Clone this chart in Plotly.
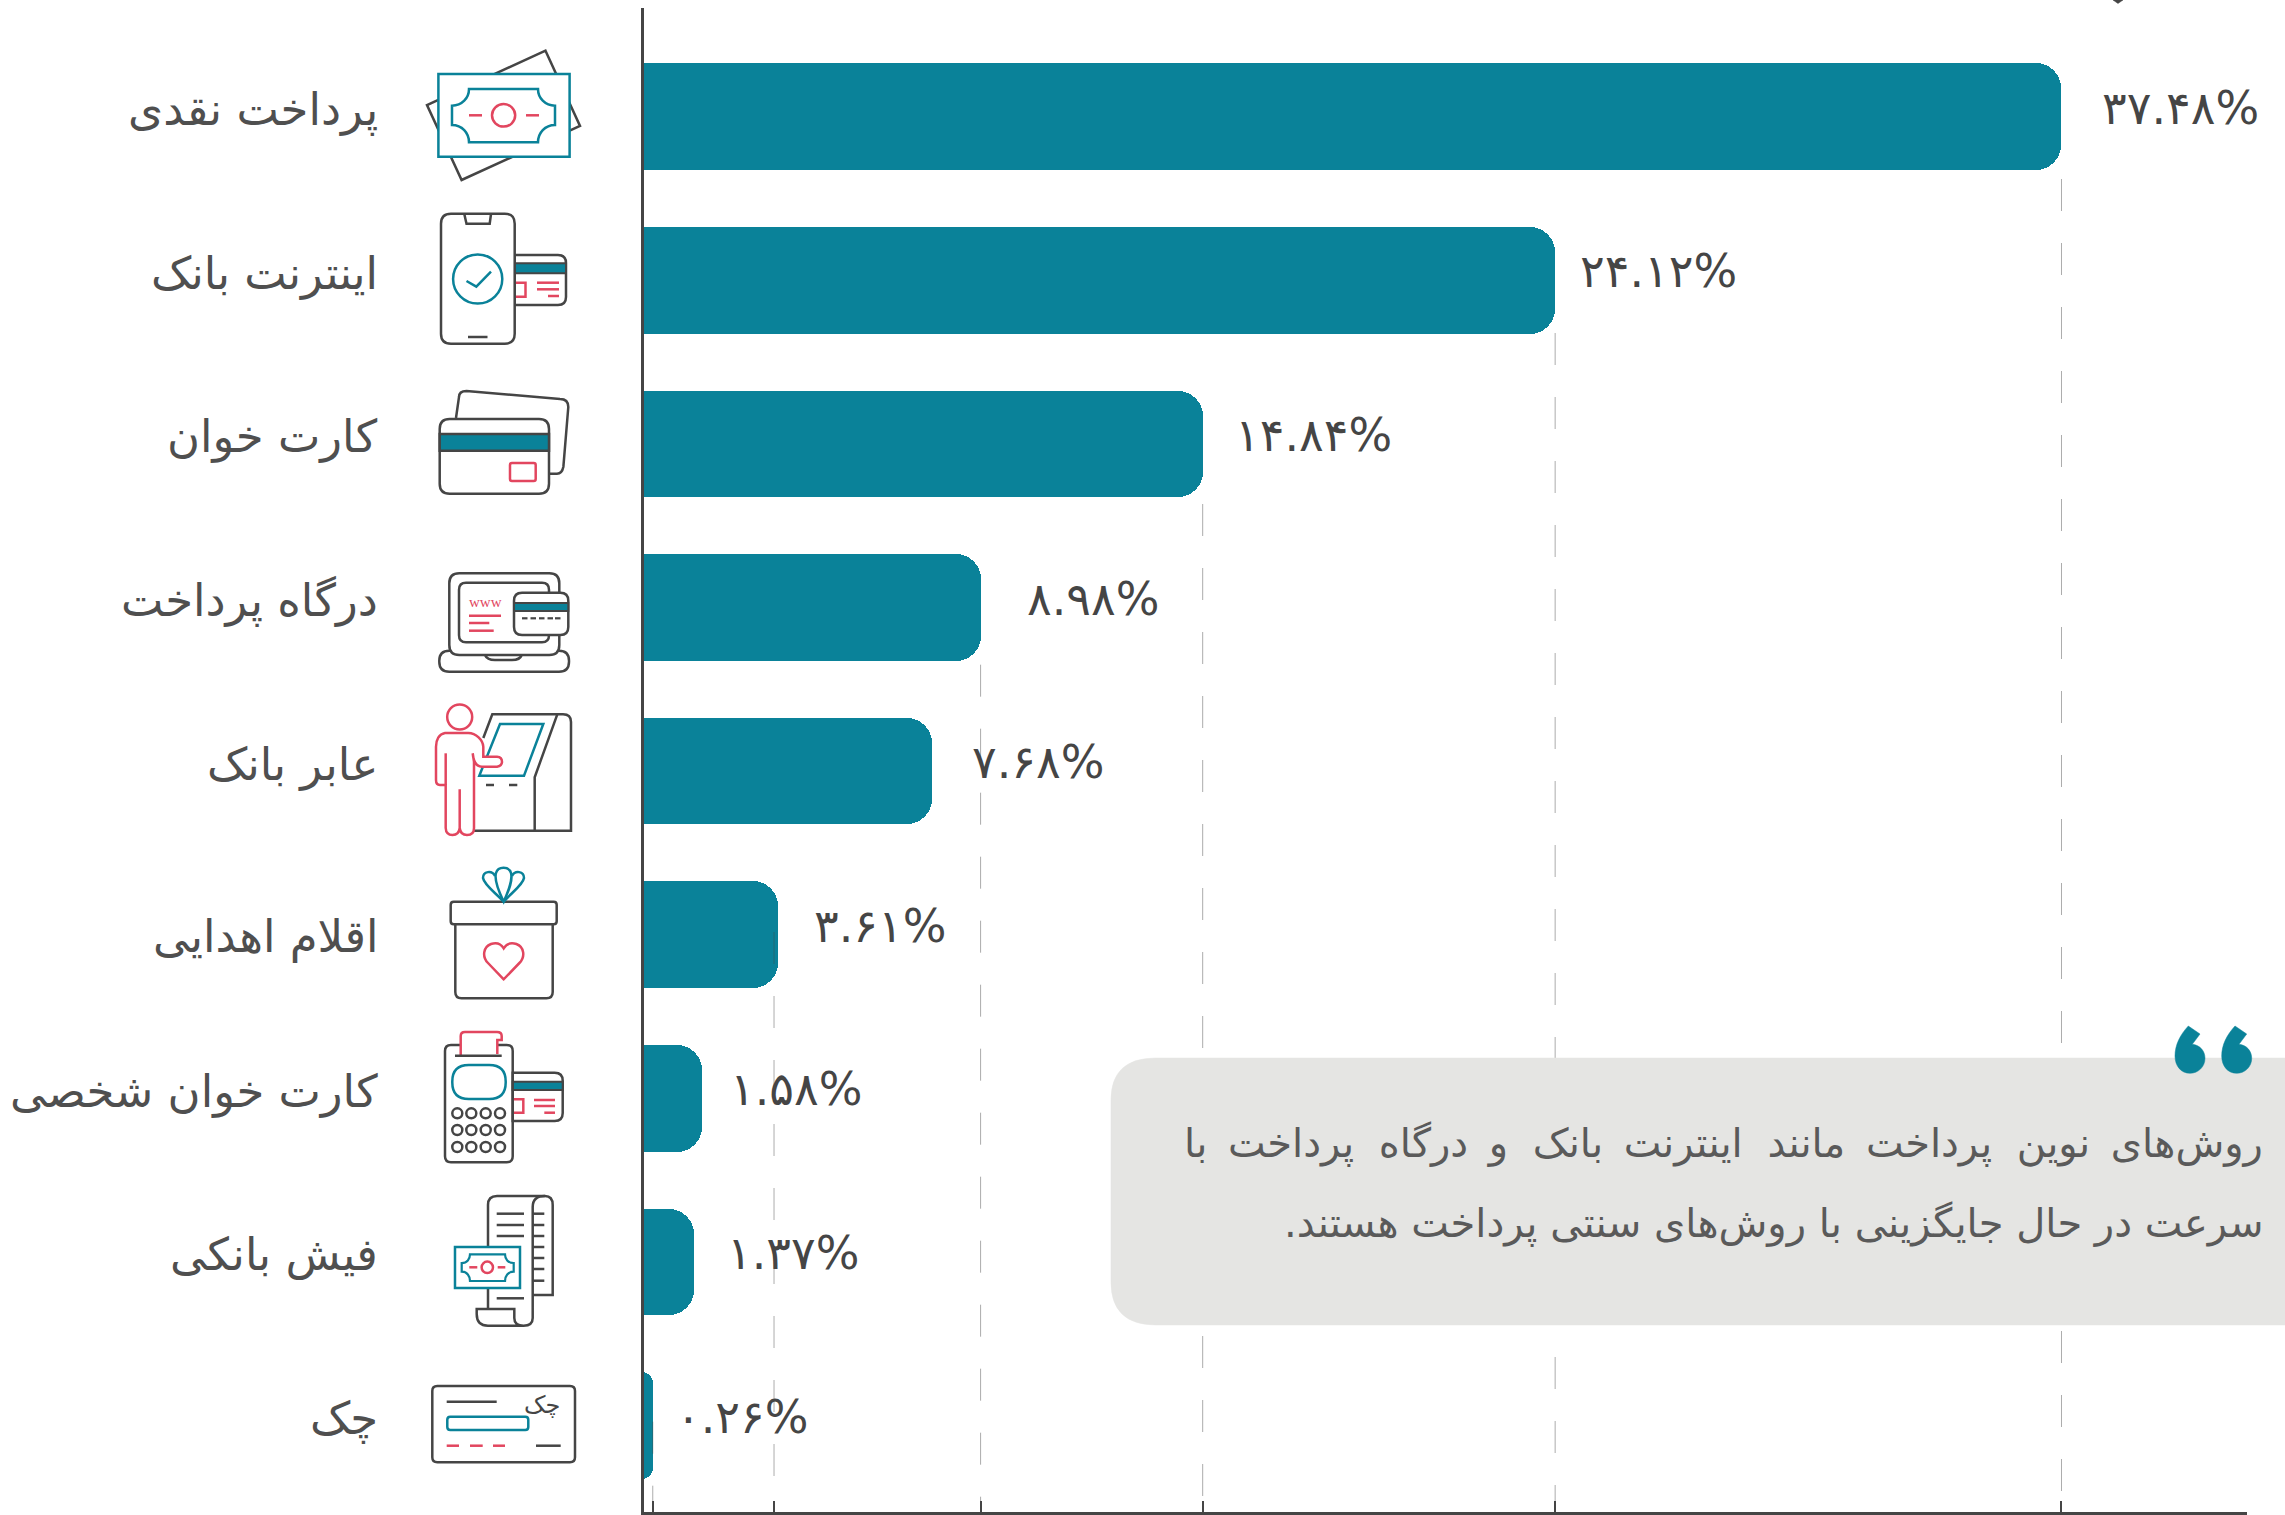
import re
import plotly.graph_objects as go

W, H = 2285, 1515

# ---------- data ----------
categories = ["پرداخت نقدی", "اینترنت بانک", "کارت خوان", "درگاه پرداخت", "عابر بانک",
              "اقلام اهدایی", "کارت خوان شخصی", "فیش بانکی", "چک"]
bar_values = [37.48, 24.12, 14.84, 8.98, 7.68, 3.61, 1.61, 1.40, 0.31]
value_labels = ["۳۷.۴۸%", "۲۴.۱۲%", "۱۴.۸۴%", "۸.۹۸%", "۷.۶۸%", "۳.۶۱%", "۱.۵۸%", "۱.۳۷%", "۰.۲۶%"]
grid_values = [0.31, 3.51, 8.96, 14.82, 24.12, 37.48]
note_words = ["روش‌های", "نوین", "پرداخت", "مانند", "اینترنت", "بانک", "و", "درگاه", "پرداخت", "با"]
note_line_2 = "سرعت در حال جایگزینی با روش‌های سنتی پرداخت هستند.\u200f"

# ---------- style ----------
TEAL = "#0a8299"
DARK = "#454545"
RED = "#e2465f"
BOX = "#e5e5e3"
FONT = "DejaVu Sans"

ZERO_PX, PX_PER_UNIT = 641.0, 37.9
DOM_L, DOM_R, DOM_T, DOM_B = 644.0, 2247.0, 8.0, 1511.5
ROW0, ROW_STEP = 116.7, 163.6
BAR_H = 106.7

label_shift = [39, 23, 30, 44, 38, 34, 25.5, 31, 21.5]
category_yshift = [7, 7, 7, 7, 7, -2, 7, 7, 7]
grid_start = [1421.7, 932, 664.7, 504, 333, 179]


def P(d):
    """Pixel path -> paper path."""
    out = []
    for cmd, args in re.findall(r"([MLHVCQZ])([^MLHVCQZ]*)", d):
        n = [float(v) for v in re.findall(r"-?\d+\.?\d*", args)]
        if cmd == "H":
            out.append("H%.5f" % (n[0] / W))
        elif cmd == "V":
            out.append("V%.5f" % (1 - n[0] / H))
        elif cmd == "Z":
            out.append("Z")
        else:
            pts = ["%.5f,%.5f" % (n[i] / W, 1 - n[i + 1] / H) for i in range(0, len(n), 2)]
            out.append(cmd + " ".join(pts))
    return "".join(out)


def rr(x0, y0, x1, y1, r):
    return (f"M{x0+r},{y0}H{x1-r}Q{x1},{y0} {x1},{y0+r}V{y1-r}Q{x1},{y1} {x1-r},{y1}"
            f"H{x0+r}Q{x0},{y1} {x0},{y1-r}V{y0+r}Q{x0},{y0} {x0+r},{y0}Z")


def circ(cx, cy, rx, ry=None):
    ry = rx if ry is None else ry
    k = 0.5523
    return (f"M{cx-rx},{cy}C{cx-rx},{cy-k*ry} {cx-k*rx},{cy-ry} {cx},{cy-ry}"
            f"C{cx+k*rx},{cy-ry} {cx+rx},{cy-k*ry} {cx+rx},{cy}"
            f"C{cx+rx},{cy+k*ry} {cx+k*rx},{cy+ry} {cx},{cy+ry}"
            f"C{cx-k*rx},{cy+ry} {cx-rx},{cy+k*ry} {cx-rx},{cy}Z")


def seg(x0, y0, x1, y1):
    return f"M{x0},{y0}L{x1},{y1}"


shapes = []


def add(d, color=DARK, width=2.5, fill=None):
    shapes.append(dict(type="path", xref="paper", yref="paper", path=P(d), layer="above",
                       line=dict(color=color, width=width),
                       fillcolor=fill if fill else "rgba(0,0,0,0)"))


# dashed gridlines (from the values, on the x axis)
for v, s in zip(grid_values, grid_start):
    shapes.append(dict(type="line", xref="x", yref="paper", x0=v, x1=v, y0=1 - s / H, y1=1 - 1511 / H,
                       layer="above", line=dict(color="rgba(70,70,70,0.45)", width=1, dash="32px,32px")))

# note box
add("M2300,1058H1156Q1111,1058 1111,1100V1282Q1111,1325 1156,1325H2300Z", BOX, 0.5, BOX)
# quote marks
for dx in (0, 46.7):
    x = lambda v: round(v + dx, 1)
    add(f"M{x(2188.3)},1026L{x(2200)},1034L{x(2192.3)},1044.3C{x(2200)},1045 {x(2205)},1051 {x(2205)},1058.3"
        f"C{x(2205)},1067 {x(2198)},1073.3 {x(2190)},1073.3C{x(2181)},1073.3 {x(2175)},1066 {x(2175)},1056"
        f"C{x(2175)},1045 {x(2180)},1035 {x(2188.3)},1026Z", TEAL, 0.5, TEAL)
# cut-off glyph at top
add("M2113,0H2123L2118,3.5Z", DARK, 0.5, DARK)

# 1 cash
add("M545.5,50.7L580,126L461.6,180L427,105Z")
add("M438.4,74H569.6V156.7H438.4Z", TEAL, 2.5, "white")
add("M469,89H538C538,98 545,105.7 555,105.7V125C545,125 538,133 538,142.3H469"
    "C469,133 462,125 452,125V105.7C462,105.7 469,98 469,89Z", TEAL, 2.5)
add(circ(503.6, 115.3, 11.6, 11.3), RED, 2.5)
add(seg(469, 115.3, 482, 115.3), RED, 2.5)
add(seg(526, 115.3, 539, 115.3), RED, 2.5)

# 2 phone + card
add("M514.7,255H558Q566,255 566,263V297Q566,305 558,305H514.7Z", DARK, 2.5, "white")
add("M514.7,263.3H566V273.3H514.7Z", DARK, 2, TEAL)
add("M514.7,282.7H525.5V296.7H514.7", RED, 2.5)
add(seg(537, 282.7, 559, 282.7), RED, 2.5)
add(seg(537, 289.3, 559, 289.3), RED, 2.5)
add(seg(548, 296, 559, 296), RED, 2.5)
add(rr(441, 213.7, 514.7, 343.7, 10), DARK, 2.5, "white")
add("M464.3,214L466.5,223.7H489.7L491,214", DARK, 2.5)
add(seg(468, 337, 487.5, 337), DARK, 2.5)
add(circ(477.7, 279, 24.6), TEAL, 2.5)
add("M466.5,281L476.3,286.7L491,271.7", TEAL, 2.5)

# 3 cards
add("M456,418L459,397Q459,391 466.5,391L560,399Q568.3,399 568.3,407L563.4,466.7Q562,473.7 557,473.7H550", DARK, 2.5)
add(rr(439.7, 419, 549, 493.7, 10), DARK, 2.5, "white")
add("M439.7,434H549V450.7H439.7Z", DARK, 2.5, TEAL)
add(rr(510, 463, 535.7, 481, 2), RED, 2.5)

# 4 laptop
add(rr(439.3, 650.7, 569, 671.7, 10), DARK, 2.5)
add("M485,655Q487,660 495,660H512Q520,660 521.7,655", DARK, 2.5)
add(rr(449.3, 573.3, 559.3, 655, 10), DARK, 2.5, "white")
add(rr(459, 582.7, 549, 642.3, 7), DARK, 2.5, "white")
add(seg(469, 615.7, 501, 615.7), RED, 2.5)
add(seg(469, 623, 489.3, 623), RED, 2.5)
add(seg(469, 630.7, 493.7, 630.7), RED, 2.5)
add(rr(514, 592.7, 568.3, 635, 8), DARK, 2.5, "white")
add("M514,603H568.3V611H514Z", DARK, 2, TEAL)
for a in (522, 530.5, 539, 547.5, 555):
    add(seg(a, 618.3, a + 5.5, 618.3), DARK, 2.2)

# 5 ATM + person
add("M483.3,738L492.3,714.3H563Q571,714.3 571,722V830.7H474", DARK, 2.5)
add("M557.3,714.3L534.7,777.3V830.7", DARK, 2.5)
add("M500,724H543.3L524,775.7H479.3Z", TEAL, 2.5)
add(seg(486, 785, 494, 785), DARK, 2.5)
add(seg(509, 785, 517.3, 785), DARK, 2.5)
add("M445,733C439,734 436,740 436,746.7V780Q436,785 440,785H445.7V828Q446,835 452.5,835Q459,835 459.7,828V789.3V828"
    "Q460.5,835 467,835Q474,835 474,828V761.7L472.7,753.3Q474,766.7 482,766.7H497Q502,766 502,761.7Q502,757 497,756.7"
    "H483.3V746.7C483,740 476,733 468.3,733Z", RED, 2.5, "white")
add(seg(445.7, 753.3, 445.7, 785), RED, 2.5)
add(circ(459.7, 717, 12.5), RED, 2.5)

# 6 gift
add("M455.3,924.3V992Q455.3,998.3 461.5,998.3H546.5Q552.7,998.3 552.7,992V924.3", DARK, 2.5)
add(rr(450.7, 901.7, 556.7, 924.3, 3), DARK, 2.5, "white")
add("M503.7,979.3L488,963C482,957 483,947 491,944C497,942 501,944 503.7,948.3"
    "C506.4,944 510.4,942 516.4,944C524.4,947 525.4,957 519.4,963Z", RED, 2.5)
add("M503.7,901.7C497,894 484,885 483,878C483,871 492,870 495,876", TEAL, 2.5)
add("M503.7,901.7C510,894 523,885 524,878C524,871 515,870 512,876", TEAL, 2.5)
add("M503.7,901.7C498,890 494,880 496,873C498,866 509,866 511,873C513,880 509,890 503.7,901.7Z", TEAL, 2.5)

# 7 POS + card
add("M512.7,1072.7H554.7Q562.7,1072.7 562.7,1080.7V1113Q562.7,1121 554.7,1121H512.7Z", DARK, 2.5, "white")
add("M512.7,1081.7H562.7V1090H512.7Z", DARK, 2, TEAL)
add("M512.7,1099.3H523.3V1112.7H512.7", RED, 2.5)
add(seg(534, 1100, 555, 1100), RED, 2.5)
add(seg(534, 1106, 555, 1106), RED, 2.5)
add(seg(544.3, 1112.7, 555, 1112.7), RED, 2.5)
add(rr(445, 1045, 512.7, 1162.3, 6), DARK, 2.5)
add("M460.7,1055V1036Q460.7,1032 465,1032H497Q501.7,1032 501.7,1036V1040H497.3V1054", RED, 2.5, "white")
add(seg(455, 1055.7, 501.7, 1055.7), DARK, 2.5)
add(rr(452.3, 1065, 505.7, 1099, 16.5), TEAL, 2.5)
for cy in (1113.3, 1130, 1147):
    for cx in (457.3, 471.3, 485.7, 500):
        add(circ(cx, cy, 5), DARK, 2.5)

# 8 receipt + note
add("M545,1196H497Q488,1196 488,1205V1308.3", DARK, 2.5)
add("M545,1196Q552.7,1196 552.7,1205V1295H532.7", DARK, 2.5)
add("M545,1196Q532.7,1196 532.7,1207V1318Q532.7,1325.7 523.5,1325.7Q514.3,1325.7 514.3,1318V1309H476.7V1314Q476.7,1325.7 488,1325.7H523.5", DARK, 2.5)
for yy in (1213.7, 1225, 1236, 1298.3):
    add(seg(496.7, yy, 524, yy), DARK, 2.5)
for yy in (1213.7, 1225, 1236, 1247, 1258, 1269, 1280.7):
    add(seg(532.7, yy, 544.3, yy), DARK, 2.5)
add("M455,1247H520V1288H455Z", TEAL, 2.5, "white")
add("M470,1254.3H505C505,1259 508,1263 513.7,1263V1271.7C508,1271.7 505,1276 505,1281H470"
    "C470,1276 467,1271.7 461.7,1271.7V1263C467,1263 470,1259 470,1254.3Z", TEAL, 2.2)
add(circ(487.3, 1267.3, 5.7), RED, 2.5)
add(seg(469.3, 1267.3, 477.3, 1267.3), RED, 2.5)
add(seg(497.7, 1267.3, 505.3, 1267.3), RED, 2.5)

# 9 cheque
add(rr(432.3, 1386, 575, 1462.3, 5), DARK, 2.5)
add(seg(446.7, 1401.7, 496.7, 1401.7), DARK, 2.5)
add(rr(447.3, 1416.7, 528.3, 1430, 3), TEAL, 2.5)
for a, b in ((446.7, 459), (470, 482.7), (493, 505)):
    add(seg(a, 1445.7, b, 1445.7), RED, 2.5)
add(seg(536, 1445.7, 560.7, 1445.7), DARK, 2.5)

# ---------- figure ----------
row = list(range(len(categories)))
fig = go.Figure(go.Bar(x=bar_values, y=row, orientation="h", width=BAR_H / ROW_STEP,
                       marker=dict(color=TEAL, line=dict(width=0), cornerradius=25),
                       hoverinfo="skip"))

annotations = []
for i, (v, t) in enumerate(zip(bar_values, value_labels)):
    annotations.append(dict(x=v, y=i, xref="x", yref="y", text=t, showarrow=False, xanchor="left",
                            yanchor="middle", xshift=label_shift[i], yshift=9,
                            font=dict(family=FONT, size=46, color=DARK)))
for i, t in enumerate(categories):
    annotations.append(dict(x=380 / W, y=i, xref="paper", yref="y", text=t, showarrow=False, xanchor="right",
                            yanchor="middle", yshift=category_yshift[i],
                            font=dict(family=FONT, size=45, color="#4f4f4f")))
note_line_1 = ""
for j, w in enumerate(note_words):
    note_line_1 += w
    if j < len(note_words) - 1:
        note_line_1 += " \u2009\u200a" if j % 2 else " \u2009"
for t, y in zip((note_line_1, note_line_2), (1143, 1223)):
    annotations.append(dict(x=2265 / W, y=1 - y / H, xref="paper", yref="paper", text=t, showarrow=False,
                            xanchor="right", yanchor="middle", font=dict(family=FONT, size=40, color="#5a5a5a")))
annotations.append(dict(x=485.7 / W, y=1 - 602 / H, xref="paper", yref="paper", text="www", showarrow=False,
                        xanchor="center", yanchor="middle",
                        font=dict(family="Liberation Serif", size=15, color=RED)))
annotations.append(dict(x=541.7 / W, y=1 - 1405 / H, xref="paper", yref="paper", text="چک", showarrow=False,
                        xanchor="center", yanchor="middle", font=dict(family=FONT, size=24, color=DARK)))

fig.update_layout(
    width=W, height=H, margin=dict(l=0, r=0, t=0, b=0), paper_bgcolor="white", plot_bgcolor="white",
    showlegend=False, bargap=0, shapes=shapes, annotations=annotations,
    xaxis=dict(domain=[DOM_L / W, DOM_R / W], range=[(DOM_L - ZERO_PX) / PX_PER_UNIT, (DOM_R - ZERO_PX) / PX_PER_UNIT],
               tickmode="array", tickvals=grid_values, ticktext=[""] * len(grid_values), ticks="inside",
               ticklen=11, tickwidth=1.5, tickcolor=DARK, showgrid=False, zeroline=False,
               showline=True, linecolor=DARK, linewidth=3, anchor="y"),
    yaxis=dict(domain=[1 - DOM_B / H, 1 - DOM_T / H],
               range=[(DOM_B - ROW0) / ROW_STEP, (DOM_T - ROW0) / ROW_STEP],
               tickmode="array", tickvals=row, ticktext=[""] * len(row), ticks="", showgrid=False, zeroline=False,
               showline=True, linecolor=DARK, linewidth=3, anchor="x"),
)

fig.write_html("out.html", config=dict(displayModeBar=False),
               post_script="document.body.style.margin='0';document.body.style.overflow='hidden';")
